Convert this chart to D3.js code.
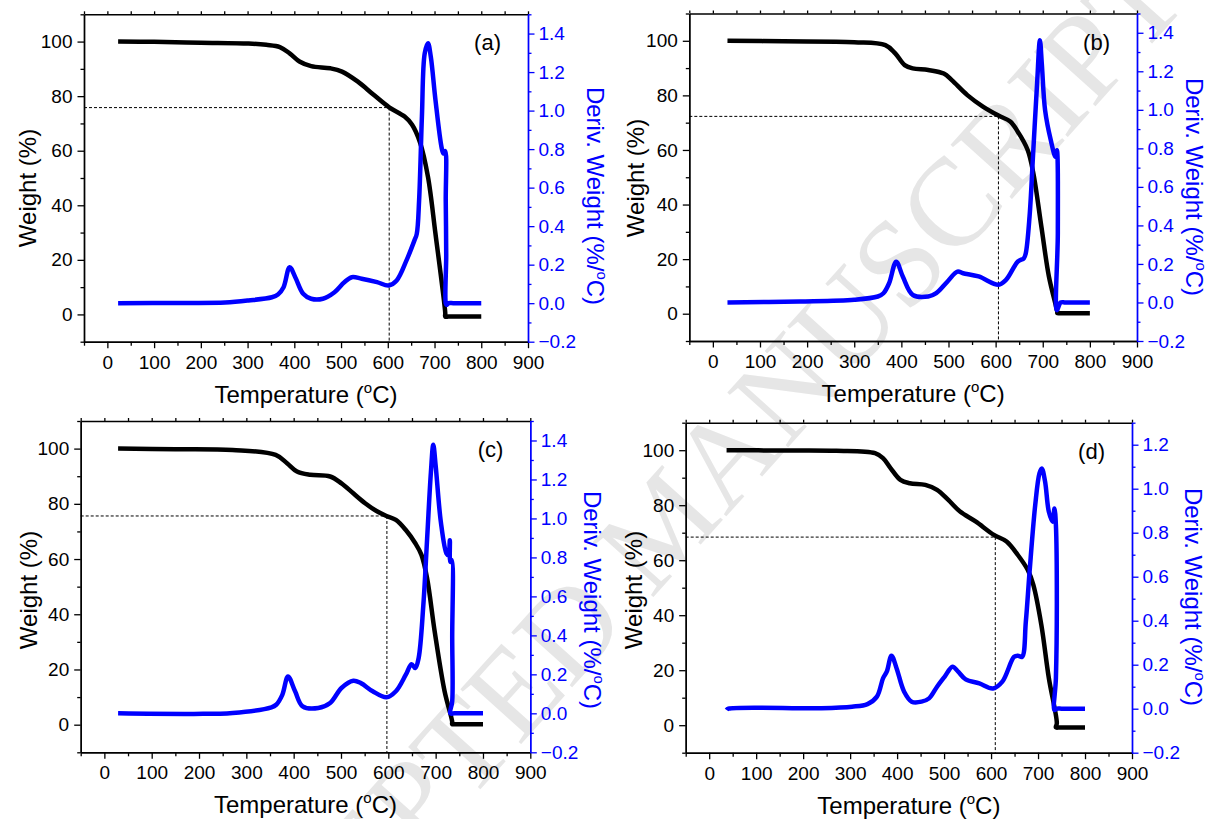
<!DOCTYPE html>
<html><head><meta charset="utf-8">
<script src="https://cdn.jsdelivr.net/npm/d3@7"></script>
<style>body{margin:0;background:#fff;} svg{display:block;}</style>
</head><body>
<svg id="chart" width="1211" height="819"></svg>
<script>
// ---------- data ----------
const tempTicks = [0,100,200,300,400,500,600,700,800,900];
const tempMinor = [-50,50,150,250,350,450,550,650,750,850];
const weightTicks = [0,20,40,60,80,100];
const weightMinor = [-10,10,30,50,70,90,110];
const derivTicks = [-0.2,0.0,0.2,0.4,0.6,0.8,1.0,1.2,1.4];
const derivMinor = [-0.1,0.1,0.3,0.5,0.7,0.9,1.1,1.3,1.5];
const derivTicksD = [-0.2,0.0,0.2,0.4,0.6,0.8,1.0,1.2];
const derivMinorD = [-0.1,0.1,0.3,0.5,0.7,0.9,1.1,1.3];
const panelLabels = ['(a)','(b)','(c)','(d)'];

const weightA = [[23,100],[100,99.9],[200,99.6],[302,99.3],[340,98.8],[369,98.0],[390,95.7],[411,92.7],[436,91.0],[477,90.2],[502,89.0],[536,85.3],[569,80.6],[603,75.9],[636,72.5],[652,69.5],[669,63],[686,50.4],[702,29.6],[723,0.5],[723,-0.8],[730,-0.8],[760,-0.8],[800,-0.8]];
const derivA = [[23,0],[150,0.001],[252,0.003],[302,0.014],[352,0.031],[365,0.045],[377,0.083],[390,0.187],[402,0.135],[419,0.049],[436,0.023],[461,0.023],[486,0.057],[507,0.109],[523,0.135],[544,0.127],[577,0.109],[602,0.092],[619,0.118],[640,0.222],[657,0.326],[662,0.36],[667,0.534],[673,0.968],[679,1.297],[686,1.35],[692,1.28],[702,1.055],[715,0.81],[719,0.777],[723,0.79],[724,0.53],[725,0.25],[724,0.0],[726,-0.01],[730,0],[740,0],[770,0],[800,0]];

const weightB = [[31,100],[150,99.8],[300,99.5],[366,98.4],[387,95.4],[407,91.1],[424,89.9],[457,89.3],[490,88],[507,85.6],[540,80.1],[573,75.9],[606,72.6],[631,70.4],[647,66.7],[668,60],[680,51.5],[697,32],[713,13.7],[731,0.5],[731,0.2],[738,0.2],[770,0.2],[800,0.2]];
const derivB = [[31,0],[184,0.005],[300,0.014],[350,0.031],[362,0.048],[374,0.1],[389,0.212],[403,0.135],[424,0.04],[457,0.031],[474,0.048],[498,0.109],[519,0.16],[531,0.152],[564,0.135],[606,0.092],[622,0.117],[647,0.212],[660,0.23],[664,0.256],[672,0.446],[680,0.791],[688,1.137],[694,1.361],[698,1.24],[705,0.998],[717,0.843],[727,0.756],[730,0.79],[732,0.36],[730,-0.04],[738,0],[748,0],[775,0],[800,0]];

const weightC = [[29,100],[150,99.8],[271,99.5],[362,97.7],[386,94.7],[407,91.7],[435,90.5],[477,89.9],[501,87.4],[526,83.8],[551,80.2],[575,77.4],[596,75.6],[616,74.2],[637,70.5],[657,65.7],[670,61.5],[682,53],[698,33.7],[719,12],[735,1.1],[735,0.2],[742,0.2],[770,0.2],[800,0.2]];
const derivC = [[29,0],[189,-0.003],[271,0.002],[353,0.031],[363,0.044],[376,0.095],[388,0.189],[403,0.113],[419,0.036],[452,0.027],[477,0.053],[501,0.13],[526,0.167],[542,0.155],[567,0.113],[596,0.082],[616,0.113],[637,0.198],[649,0.252],[657,0.232],[664,0.283],[674,0.556],[682,0.897],[690,1.238],[695,1.378],[700,1.272],[711,0.982],[723,0.82],[727,0.812],[730,0.888],[731,0.777],[734,0.786],[735,0.385],[735,0.061],[731,0],[740,0],[770,0],[800,0]];

const weightD = [[37,100],[150,99.9],[271,99.8],[353,98.9],[370,97.1],[386,93.5],[407,89.2],[427,88],[460,87.4],[485,85.6],[509,81.9],[534,77.7],[567,74.1],[606,69.2],[633,66.8],[657,61.9],[678,56.5],[690,51],[707,36.5],[723,17.1],[740,0.7],[738,-0.8],[746,-0.8],[775,-0.8],[800,-0.8]];
const derivD = [[37,-0.006],[41,0],[238,0.002],[304,0.009],[337,0.021],[357,0.055],[370,0.138],[378,0.168],[388,0.241],[399,0.183],[415,0.077],[431,0.032],[452,0.032],[468,0.047],[485,0.1],[501,0.145],[518,0.191],[530,0.168],[546,0.133],[575,0.115],[604,0.092],[624,0.123],[649,0.236],[657,0.241],[666,0.236],[674,0.395],[682,0.623],[694,0.926],[703,1.07],[708,1.092],[715,1.032],[723,0.895],[731,0.85],[735,0.91],[738,0.835],[740,0.471],[738,0.138],[735,-0.006],[740,0],[750,0],[775,0],[800,0]];

const markA = [603, 75.8];
const markB = [606, 72.3];
const markC = [597, 75.6];
const markD = [609, 68.4];

// ---------- layout ----------
const FONT = 'Liberation Sans, Arial, Helvetica, sans-serif';
const BLUE = '#0000ff';
const panels = [
  {label:panelLabels[0], weight:weightA, deriv:derivA, mark:markA, box:[84,14.3,528,341.7], rTop:1.5, rTicks:derivTicks, rMinor:derivMinor, wTitle:[27,188], rTitle:[595,196]},
  {label:panelLabels[1], weight:weightB, deriv:derivB, mark:markB, box:[689.3,13.5,1137,341], rTop:1.5, rTicks:derivTicks, rMinor:derivMinor, wTitle:[635,178], rTitle:[1194,187]},
  {label:panelLabels[2], weight:weightC, deriv:derivC, mark:markC, box:[80.7,421,530.3,752.3], rTop:1.5, rTicks:derivTicks, rMinor:derivMinor, wTitle:[28,590], rTitle:[592,600]},
  {label:panelLabels[3], weight:weightD, deriv:derivD, mark:markD, box:[685.7,422.7,1132,752.7], rTop:1.3, rTicks:derivTicksD, rMinor:derivMinorD, wTitle:[633,590], rTitle:[1193,597]}
];

const svg = d3.select('#chart');

// watermark
svg.append('text')
  .attr('transform','translate(198,1103) rotate(-48)')
  .attr('font-family','Liberation Serif, Times New Roman, serif')
  .attr('font-size',125)
  .attr('fill','#e6e6e6')
  .text('ACCEPTED MANUSCRIPT');

function styleAxis(g, color){
  g.selectAll('path.domain').attr('stroke',color).attr('stroke-width',1.4);
  g.selectAll('.tick line').attr('stroke',color).attr('stroke-width',1.3);
  g.selectAll('.tick text').attr('fill',color).attr('font-family',FONT).attr('font-size',19);
}

panels.forEach(p => {
  const [L,T,R,B] = p.box;
  const x = d3.scaleLinear().domain([-50,900]).range([L,R]);
  const yW = d3.scaleLinear().domain([-10,110]).range([B,T]);
  const yD = d3.scaleLinear().domain([-0.2,p.rTop]).range([B,T]);
  const g = svg.append('g');

  // dashed guide lines
  g.append('line').attr('x1',x(-50)).attr('x2',x(p.mark[0]))
    .attr('y1',yW(p.mark[1])).attr('y2',yW(p.mark[1]))
    .attr('stroke','#000').attr('stroke-width',1).attr('stroke-dasharray','3,2');
  g.append('line').attr('x1',x(p.mark[0])).attr('x2',x(p.mark[0]))
    .attr('y1',yW(p.mark[1])).attr('y2',yW(-10))
    .attr('stroke','#000').attr('stroke-width',1).attr('stroke-dasharray','3,2');

  // curves
  const lineW = d3.line().x(d=>x(d[0])).y(d=>yW(d[1])).curve(d3.curveCatmullRom.alpha(0.5));
  const lineD = d3.line().x(d=>x(d[0])).y(d=>yD(d[1])).curve(d3.curveCatmullRom.alpha(0.5));
  g.append('path').attr('d',lineW(p.weight)).attr('fill','none')
    .attr('stroke','#000').attr('stroke-width',4.5).attr('stroke-linejoin','round');
  g.append('path').attr('d',lineD(p.deriv)).attr('fill','none')
    .attr('stroke',BLUE).attr('stroke-width',4.5).attr('stroke-linejoin','round');

  // top frame
  const gt = g.append('g').attr('transform',`translate(0,${T})`)
    .call(d3.axisTop(x).tickValues(tempTicks.concat(tempMinor)).tickSize(3).tickSizeOuter(0).tickFormat(()=>''));
  styleAxis(gt,'#000');

  // bottom axis
  const gbm = g.append('g').attr('transform',`translate(0,${B})`)
    .call(d3.axisBottom(x).tickValues(tempMinor).tickSize(4).tickSizeOuter(0).tickFormat(()=>''));
  styleAxis(gbm,'#000');
  const gb = g.append('g').attr('transform',`translate(0,${B})`)
    .call(d3.axisBottom(x).tickValues(tempTicks).tickSize(6.5).tickSizeOuter(0).tickPadding(7).tickFormat(d3.format('d')));
  styleAxis(gb,'#000');

  // left axis
  const glm = g.append('g').attr('transform',`translate(${L},0)`)
    .call(d3.axisLeft(yW).tickValues(weightMinor).tickSize(3.5).tickSizeOuter(0).tickFormat(()=>''));
  styleAxis(glm,'#000');
  const gl = g.append('g').attr('transform',`translate(${L},0)`)
    .call(d3.axisLeft(yW).tickValues(weightTicks).tickSize(6.5).tickSizeOuter(0).tickPadding(5).tickFormat(d3.format('d')));
  styleAxis(gl,'#000');

  // right axis
  const grm = g.append('g').attr('transform',`translate(${R},0)`)
    .call(d3.axisRight(yD).tickValues(p.rMinor).tickSize(3.5).tickSizeOuter(0).tickFormat(()=>''));
  styleAxis(grm,BLUE);
  const gr = g.append('g').attr('transform',`translate(${R},0)`)
    .call(d3.axisRight(yD).tickValues(p.rTicks).tickSize(6.5).tickSizeOuter(0).tickPadding(4).tickFormat(d3.format('.1f')));
  styleAxis(gr,BLUE);

  // panel label
  g.append('text').attr('x',R-27).attr('y',T+36).attr('text-anchor','end')
    .attr('font-family',FONT).attr('font-size',22).text(p.label);

  // x title
  const xt = g.append('text').attr('x',(L+R)/2).attr('y',B+61).attr('text-anchor','middle')
    .attr('font-family',FONT).attr('font-size',24);
  xt.append('tspan').text('Temperature (');
  xt.append('tspan').attr('font-size',15).attr('dy',-10).text('o');
  xt.append('tspan').attr('dy',10).text('C)');

  // left title
  g.append('text').attr('transform',`translate(${p.wTitle[0]},${p.wTitle[1]}) rotate(-90)`)
    .attr('text-anchor','middle').attr('dominant-baseline','central')
    .attr('font-family',FONT).attr('font-size',24).text('Weight (%)');

  // right title
  const rt = g.append('text').attr('transform',`translate(${p.rTitle[0]},${p.rTitle[1]}) rotate(90)`)
    .attr('text-anchor','middle').attr('dy','0.35em')
    .attr('font-family',FONT).attr('font-size',24).attr('fill',BLUE);
  rt.append('tspan').text('Deriv. Weight (%/');
  rt.append('tspan').attr('font-size',15).attr('dy',-10).text('o');
  rt.append('tspan').attr('dy',10).text('C)');
});
</script>
</body></html>
